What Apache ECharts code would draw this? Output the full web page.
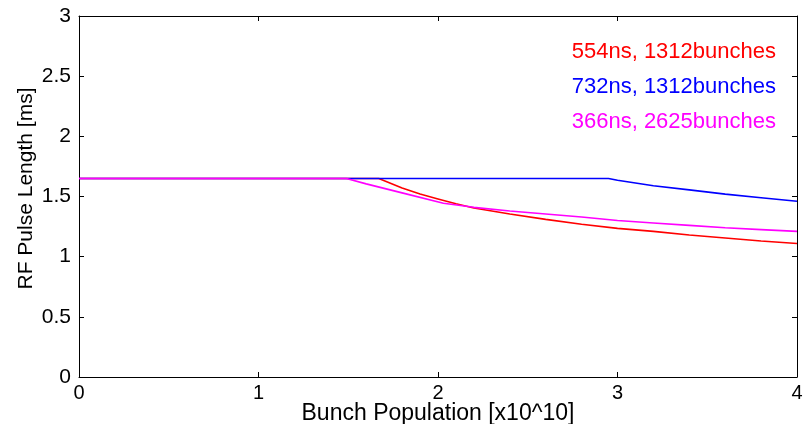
<!DOCTYPE html>
<html>
<head>
<meta charset="utf-8">
<script src="https://cdn.jsdelivr.net/npm/echarts@6/dist/echarts.min.js"></script>
<style>
  html, body { margin: 0; padding: 0; background: #fff; }
  #chart { width: 805px; height: 424px; }
</style>
</head>
<body>
<div id="chart"></div>
<script>
// bunch population [x10^10], pulse length [ms]
const redX = [0, 1.67, 1.8, 1.9, 2.0, 2.1, 2.2, 2.4, 2.6, 2.8, 3.0, 3.2, 3.4, 3.6, 3.8, 4.0];
const redY = [1.65, 1.65, 1.57, 1.52, 1.48, 1.44, 1.405, 1.355, 1.31, 1.27, 1.235, 1.21, 1.18, 1.155, 1.13, 1.11];
const blueX = [0, 2.95, 3.0, 3.2, 3.4, 3.6, 3.8, 4.0];
const blueY = [1.65, 1.65, 1.635, 1.59, 1.555, 1.52, 1.49, 1.46];
const pinkX = [0, 1.49, 1.6, 1.8, 2.03, 2.2, 2.4, 2.6, 2.8, 3.0, 3.2, 3.4, 3.6, 3.8, 4.0];
const pinkY = [1.65, 1.65, 1.605, 1.53, 1.444, 1.41, 1.38, 1.355, 1.33, 1.30, 1.28, 1.26, 1.24, 1.225, 1.21];
const seriesNames = ['554ns, 1312bunches', '732ns, 1312bunches', '366ns, 2625bunches'];
const seriesColors = ['#ff0000', '#0000ff', '#ff00ff'];

const pair = (xs, ys) => xs.map((x, i) => [x, ys[i]]);
const font = 'Liberation Sans, Arial, sans-serif';

const chart = echarts.init(document.getElementById('chart'));

const axisCommon = {
  min: 0,
  interval: 1,
  nameMoveOverlap: false,
  axisLine: { show: true, onZero: false, lineStyle: { color: '#000', width: 1 } },
  axisTick: { show: true, inside: true, length: 5, lineStyle: { color: '#000' } },
  splitLine: { show: false }
};

chart.setOption({
  animation: false,
  textStyle: { fontFamily: font },
  grid: { left: 79, right: 8, top: 16, bottom: 47, containLabel: false, outerBoundsMode: 'none' },
  legend: {
    orient: 'vertical',
    right: 24,
    top: 36,
    icon: 'none',
    itemWidth: 0,
    itemGap: 13,
    selectedMode: false,
    textStyle: { fontSize: 22, fontFamily: font },
    data: seriesNames.map((n, i) => ({ name: n, textStyle: { color: seriesColors[i] } }))
  },
  xAxis: [
    Object.assign({}, axisCommon, {
      type: 'value', max: 4, position: 'bottom',
      name: 'Bunch Population [x10^10]', nameLocation: 'middle', nameGap: 25,
      nameTextStyle: { fontSize: 23, color: '#000' },
      axisLabel: { fontSize: 20, color: '#000', margin: 6 }
    }),
    Object.assign({}, axisCommon, {
      type: 'value', max: 4, position: 'top', axisLabel: { show: false }
    })
  ],
  yAxis: [
    Object.assign({}, axisCommon, {
      type: 'value', max: 3, interval: 0.5, position: 'left',
      name: 'RF Pulse Length [ms]', nameLocation: 'middle', nameGap: 42,
      nameTextStyle: { fontSize: 21, color: '#000', padding: [0, 0, 0, 16] },
      axisLabel: { fontSize: 21, color: '#000', margin: 8 }
    }),
    Object.assign({}, axisCommon, {
      type: 'value', max: 3, interval: 0.5, position: 'right', axisLabel: { show: false }
    })
  ],
  series: [
    { name: seriesNames[0], data: pair(redX, redY) },
    { name: seriesNames[1], data: pair(blueX, blueY) },
    { name: seriesNames[2], data: pair(pinkX, pinkY) }
  ].map((s, i) => Object.assign(s, {
    type: 'line',
    showSymbol: false,
    smooth: false,
    color: seriesColors[i],
    lineStyle: { color: seriesColors[i], width: 1.6 }
  }))
});
</script>
</body>
</html>
